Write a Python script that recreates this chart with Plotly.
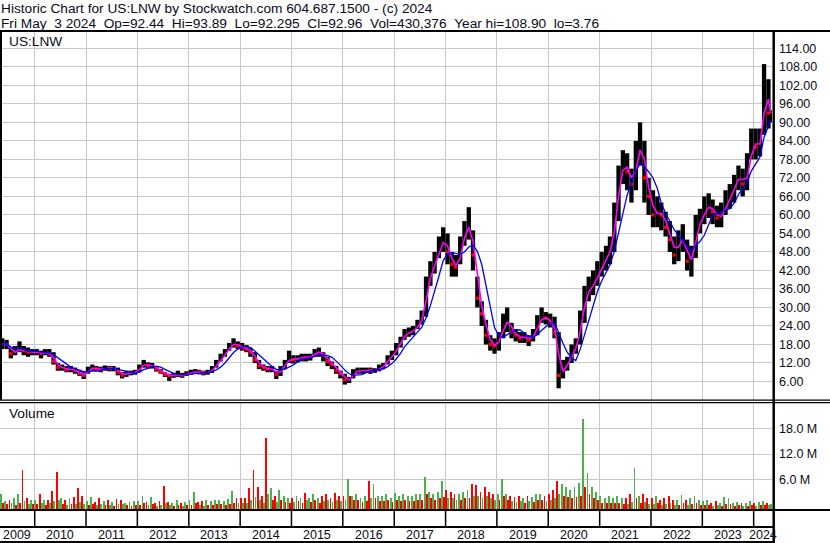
import pandas as pd
import plotly.graph_objects as go

# ---------------- data (monthly, May 2009 .. May 2024) ----------------
close = [
    18.0, 18.5, 15.0, 16.0, 16.5, 16.0, 15.5, 15.5,                          # 2009 May-Dec
    15.5, 15.0, 15.5, 15.0, 12.5, 10.5, 10.5, 9.8, 10.0, 9.5, 8.5, 8.0,      # 2010
    10.0, 10.5, 10.0, 9.8, 10.5, 10.2, 10.3, 9.0, 8.0, 8.8, 8.8, 9.0,        # 2011
    10.5, 12.0, 11.0, 11.3, 10.0, 9.0, 8.3, 7.8, 8.0, 8.3, 8.0, 8.5,         # 2012
    9.0, 9.2, 9.0, 8.8, 9.0, 10.0, 12.0, 13.5, 15.5, 17.5, 18.5, 17.5,       # 2013
    17.0, 16.5, 15.5, 13.0, 11.0, 10.5, 10.0, 10.0, 8.2, 10.0, 12.0, 13.5,   # 2014
    13.0, 13.5, 14.0, 13.8, 14.0, 15.5, 15.5, 14.5, 12.5, 11.5, 9.5, 8.5,    # 2015
    6.5, 6.5, 9.0, 9.5, 9.5, 9.8, 9.5, 9.5, 10.5, 11.0, 13.5, 14.5,          # 2016
    17.0, 19.5, 21.5, 22.0, 22.5, 24.5, 27.0, 37.0, 42.0, 45.0, 50.0, 52.0,  # 2017
    48.0, 44.0, 43.0, 49.0, 56.0, 56.0, 47.0, 33.0, 28.0, 21.0, 18.0, 17.5,  # 2018
    20.0, 25.0, 25.5, 22.0, 21.0, 20.0, 20.5, 19.5, 21.0, 25.0, 27.0, 26.5,  # 2019
    25.0, 22.0, 8.0, 10.5, 12.0, 15.5, 18.0, 26.0, 34.0, 36.0, 38.0, 41.0,   # 2020
    44.0, 47.0, 49.0, 60.0, 72.0, 77.0, 74.0, 70.0, 78.0, 84.0, 72.0, 66.0,  # 2021
    60.0, 61.0, 60.0, 56.0, 52.0, 47.0, 52.0, 52.0, 45.0, 46.0, 56.0, 58.0,  # 2022
    62.0, 63.0, 61.0, 59.0, 60.0, 64.0, 66.0, 70.0, 73.0, 70.0, 74.0, 84.0,  # 2023
    82.0, 84.0, 102.0, 93.0, 93.0,                                           # 2024 Jan-May
]
high = [
    20.0, 19.5, 17.0, 17.5, 19.0, 17.5, 17.0, 16.5,
    16.5, 16.0, 16.5, 16.5, 15.5, 12.0, 11.5, 11.0, 11.0, 10.5, 9.8, 9.0,
    10.8, 11.5, 11.0, 10.8, 11.2, 11.0, 11.0, 10.5, 9.0, 9.5, 9.5, 9.8,
    11.5, 13.0, 12.2, 12.0, 11.0, 10.0, 9.0, 8.5, 8.8, 9.5, 8.8, 9.3,
    9.8, 10.0, 9.8, 9.5, 9.8, 11.0, 13.0, 15.0, 16.5, 18.5, 20.0, 19.0,
    18.5, 17.8, 17.0, 15.5, 13.0, 11.5, 11.0, 11.0, 9.5, 11.0, 13.0, 16.0,
    14.5, 14.5, 15.0, 15.0, 15.0, 16.5, 17.0, 15.5, 14.0, 12.5, 11.0, 9.5,
    8.5, 7.5, 10.0, 10.5, 10.5, 10.5, 10.5, 10.3, 11.5, 12.0, 14.5, 16.0,
    18.5, 20.5, 23.0, 23.5, 24.0, 26.0, 29.0, 40.0, 45.0, 48.0, 53.0, 56.0,
    54.0, 48.0, 47.0, 53.0, 58.0, 62.5, 55.0, 40.0, 32.0, 26.0, 21.0, 20.0,
    22.0, 28.0, 30.0, 25.0, 23.0, 22.0, 22.0, 21.0, 23.0, 27.5, 30.0, 28.5,
    28.0, 27.0, 22.0, 13.0, 14.0, 18.0, 20.0, 29.0, 37.0, 40.0, 42.0, 45.0,
    48.0, 50.0, 53.0, 64.0, 76.0, 81.0, 80.0, 75.0, 84.0, 90.0, 84.0, 72.0,
    68.0, 66.0, 64.0, 61.0, 58.0, 53.0, 55.0, 57.0, 52.0, 50.0, 60.0, 62.0,
    66.0, 67.0, 65.0, 63.0, 64.0, 68.0, 70.0, 73.0, 76.0, 75.0, 80.0, 88.0,
    88.0, 88.0, 108.9, 104.0, 94.0,
]
low = [
    16.5, 16.5, 13.5, 14.5, 15.5, 14.5, 14.0, 14.5,
    14.5, 13.5, 14.5, 14.0, 11.5, 9.5, 9.5, 9.0, 9.0, 8.5, 7.8, 6.8,
    8.5, 9.5, 9.2, 9.0, 9.5, 9.3, 9.3, 8.0, 7.0, 7.5, 8.0, 8.2,
    9.0, 10.5, 10.2, 10.2, 9.2, 8.5, 7.5, 6.2, 7.2, 7.5, 7.2, 7.8,
    8.2, 8.5, 8.3, 8.0, 8.2, 8.8, 10.5, 12.5, 14.0, 16.0, 17.0, 16.5,
    16.0, 15.5, 14.0, 12.0, 10.0, 9.5, 9.0, 9.0, 6.8, 7.8, 10.0, 12.0,
    11.8, 12.2, 12.5, 12.5, 12.8, 14.0, 14.0, 12.5, 11.0, 10.0, 8.5, 7.0,
    5.0, 5.5, 7.0, 8.5, 8.5, 8.8, 8.5, 8.8, 9.3, 10.0, 11.5, 13.0,
    14.5, 17.0, 19.5, 20.5, 21.0, 23.0, 24.5, 27.0, 37.0, 41.0, 46.0, 48.0,
    44.0, 40.0, 40.0, 44.0, 50.0, 52.0, 42.0, 30.0, 24.0, 18.0, 16.0, 15.0,
    16.0, 20.0, 22.0, 20.0, 19.0, 18.5, 18.5, 17.5, 19.0, 21.0, 25.0, 24.5,
    23.5, 20.0, 3.8, 7.0, 9.5, 12.0, 15.0, 18.0, 25.0, 32.0, 34.0, 37.0,
    40.0, 42.0, 44.0, 48.0, 58.0, 70.0, 68.0, 64.0, 68.0, 76.0, 64.0, 60.0,
    56.0, 56.0, 55.0, 53.0, 48.0, 44.0, 45.0, 48.0, 42.0, 40.0, 46.0, 54.0,
    57.0, 59.0, 57.0, 56.0, 56.0, 60.0, 62.0, 64.0, 68.0, 66.0, 68.0, 78.0,
    78.0, 79.0, 86.0, 88.0, 90.0,
]
# volume in millions: largest day of the month, and a typical day
vol_peak = [
    3.5, 1.8, 2.2, 2.5, 3.5, 9.1, 2.5, 2.0,
    2.0, 3.6, 2.0, 2.2, 4.2, 8.6, 2.5, 2.0, 2.5, 2.8, 4.8, 3.0,
    1.8, 2.8, 1.6, 2.5, 1.8, 2.0, 1.6, 2.3, 2.0, 1.5, 1.6, 1.8,
    1.8, 3.1, 1.6, 2.7, 1.5, 1.8, 5.4, 1.6, 1.5, 2.0, 1.5, 1.6,
    2.0, 3.9, 1.6, 1.8, 2.0, 1.8, 2.2, 2.0, 1.8, 2.4, 4.1, 2.5,
    2.5, 2.5, 4.8, 9.1, 5.0, 3.0, 16.4, 4.9, 3.0, 4.5, 3.0, 2.5,
    2.5, 3.0, 2.5, 3.7, 2.5, 3.5, 2.5, 3.0, 3.5, 2.5, 3.7, 3.0,
    3.0, 7.0, 3.0, 3.5, 2.5, 3.0, 6.5, 5.8, 3.0, 3.0, 3.5, 2.5,
    3.8, 3.0, 3.5, 3.0, 3.0, 3.5, 3.5, 7.5, 4.0, 3.5, 4.0, 6.5,
    4.5, 4.0, 3.5, 3.5, 4.0, 4.5, 5.7, 5.5, 4.0, 5.0, 4.0, 3.5,
    3.5, 7.0, 3.5, 3.0, 2.8, 3.0, 2.5, 3.0, 2.8, 3.5, 3.5, 3.0,
    3.5, 4.5, 6.5, 5.7, 5.0, 4.5, 5.0, 6.0, 20.9, 8.4, 5.0, 4.0,
    3.0, 2.5, 3.0, 2.5, 3.0, 2.5, 2.5, 3.5, 9.5, 3.0, 3.5, 2.5,
    2.5, 3.0, 2.0, 2.5, 3.0, 2.0, 2.0, 3.2, 2.0, 2.5, 3.0, 2.0,
    1.8, 2.0, 1.5, 1.8, 1.5, 2.8, 2.5, 1.5, 1.6, 1.5, 1.5, 1.9,
    1.5, 1.6, 1.8, 1.5, 1.2,
]
vol_base = [
    1.5, 1.2, 1.3, 1.0, 1.4, 1.8, 1.1, 1.2,
    1.2, 1.4, 1.0, 1.3, 1.8, 2.0, 1.2, 1.0, 1.1, 1.2, 1.6, 1.2,
    1.0, 1.2, 0.9, 1.1, 1.0, 0.9, 0.8, 1.2, 1.1, 0.9, 0.8, 0.9,
    0.9, 1.3, 0.9, 1.1, 0.8, 0.9, 1.5, 1.0, 0.8, 1.0, 0.8, 0.9,
    1.0, 1.4, 0.9, 0.8, 1.0, 0.9, 1.2, 1.1, 1.0, 1.2, 1.5, 1.3,
    1.4, 1.3, 2.0, 2.8, 2.2, 1.5, 3.5, 2.0, 1.6, 2.2, 1.6, 1.5,
    1.6, 1.8, 1.5, 2.0, 1.6, 2.0, 1.5, 1.8, 2.0, 1.6, 2.2, 1.8,
    2.0, 3.0, 2.0, 2.0, 1.6, 1.8, 2.5, 2.5, 1.8, 1.8, 2.0, 1.6,
    2.0, 1.8, 2.0, 1.8, 1.8, 2.0, 2.0, 3.5, 2.5, 2.0, 2.5, 2.8,
    2.5, 2.5, 2.0, 2.0, 2.5, 2.5, 3.0, 3.0, 2.5, 3.0, 2.5, 2.0,
    2.0, 3.0, 2.0, 1.8, 1.6, 1.8, 1.5, 1.8, 1.6, 2.0, 2.0, 1.8,
    2.0, 2.5, 3.5, 3.0, 2.8, 2.5, 2.8, 3.0, 5.0, 3.5, 2.5, 2.0,
    1.5, 1.3, 1.5, 1.3, 1.5, 1.2, 1.2, 1.6, 2.5, 1.5, 1.6, 1.2,
    1.2, 1.4, 1.0, 1.2, 1.4, 1.0, 1.0, 1.5, 1.0, 1.2, 1.4, 1.0,
    0.9, 1.0, 0.8, 0.9, 0.8, 1.2, 1.1, 0.8, 0.9, 0.8, 0.8, 1.0,
    0.8, 0.9, 1.0, 0.9, 0.7,
]
price_ticks = [6, 12, 18, 24, 30, 36, 42, 48, 54, 60, 66, 72, 78, 84, 90, 96, 102, 108, 114]
vol_ticks = [6, 12, 18]
vol_tick_labels = ["6.0 M", "12.0 M", "18.0 M"]
year_labels = [2009, 2010, 2011, 2012, 2013, 2014, 2015, 2016, 2017, 2018,
               2019, 2020, 2021, 2022, 2023, 2024]
header1 = "Historic Chart for US:LNW by Stockwatch.com 604.687.1500 - (c) 2024"
header2 = ("Fri May\u00a0\u00a03 2024\u00a0\u00a0Op=92.44\u00a0\u00a0Hi=93.89\u00a0\u00a0"
           "Lo=92.295\u00a0\u00a0Cl=92.96\u00a0\u00a0Vol=430,376\u00a0\u00a0Year hi=108.90\u00a0\u00a0lo=3.76")

# ---------------- geometry helpers ----------------
W, H = 830, 543
def px(x):
    return x / W
def py(y):
    return 1 - y / H

FONT = "Liberation Sans, Arial, sans-serif"
TXT = "#0a0a20"
GRID = "#c8c8c8"
RED = "#ff0000"
GREEN = "#4cb04c"

n = len(close)
month_start = list(pd.date_range("2009-05-01", periods=n, freq="MS"))
bar_dates = [d + pd.Timedelta(days=14) for d in month_start]
bar_dates[-1] = pd.Timestamp("2024-05-02")

x_range = [pd.Timestamp("2009-04-29 05:00"), pd.Timestamp("2024-05-10 10:00")]

cs = pd.Series(close)
ma_short = cs.rolling(2, min_periods=1).mean()
ma_long = cs.rolling(5, min_periods=1).mean()

fig = go.Figure()

# high-low bars
bx, by = [], []
for d, h, l in zip(bar_dates, high, low):
    bx += [d, d, None]
    by += [l, h, None]
fig.add_trace(go.Scatter(x=bx, y=by, mode="lines", line=dict(color="black", width=4.3),
                         hoverinfo="skip", showlegend=False, xaxis="x", yaxis="y"))

# red close marks on down months
down_x = [bar_dates[i] for i in range(1, n) if close[i] < close[i - 1]]
down_y = [close[i] for i in range(1, n) if close[i] < close[i - 1]]
fig.add_trace(go.Scatter(x=down_x, y=down_y, mode="markers",
                         marker=dict(color=RED, size=3.2, symbol="square", line=dict(width=0)),
                         showlegend=False, xaxis="x", yaxis="y"))

fig.add_trace(go.Scatter(x=bar_dates, y=ma_short, mode="lines",
                         line=dict(color="#ff00ff", width=1.6), showlegend=False,
                         xaxis="x", yaxis="y"))
fig.add_trace(go.Scatter(x=bar_dates, y=ma_long, mode="lines",
                         line=dict(color="#0000ff", width=1.3), showlegend=False,
                         xaxis="x", yaxis="y"))

# volume bars: two per month
vx, vy, vc = [], [], []
for i in range(n):
    up = i == 0 or close[i] >= close[i - 1]
    if i == n - 1:
        vx.append(pd.Timestamp("2024-05-02"))
        vy.append(vol_peak[i])
        vc.append(GREEN if up else RED)
        continue
    vx.append(month_start[i] + pd.Timedelta(days=5))
    vy.append(vol_peak[i])
    vc.append(GREEN if up else RED)
    vx.append(month_start[i] + pd.Timedelta(days=19))
    vy.append(vol_base[i])
    vc.append(RED if up else GREEN)
fig.add_trace(go.Bar(x=vx, y=vy, base=-0.75, marker=dict(color=vc, line=dict(width=0)),
                     width=13 * 86400000, showlegend=False, xaxis="x2", yaxis="y2"))

axis_common = dict(type="date", range=x_range, domain=[0, px(772)], showgrid=True,
                   gridcolor=GRID, gridwidth=1, dtick="M12", tick0="2010-01-01",
                   showticklabels=False, ticks="", zeroline=False, showline=False,
                   fixedrange=True)

fig.update_layout(
    width=W, height=H, margin=dict(l=0, r=0, t=0, b=0),
    paper_bgcolor="white", plot_bgcolor="white", showlegend=False,
    bargap=0,
    font=dict(family=FONT, size=13, color=TXT),
    xaxis=dict(anchor="y", **axis_common),
    xaxis2=dict(anchor="y2", matches="x", **axis_common),
    yaxis=dict(domain=[py(400), py(32)], range=[0, 119.3], side="right", anchor="x",
               tickvals=price_ticks, ticktext=["%.2f" % v for v in price_ticks],
               showgrid=True, gridcolor=GRID, gridwidth=1, zeroline=False, ticks="",
               ticklabelstandoff=6, fixedrange=True,
               tickfont=dict(size=12.5, family=FONT, color=TXT)),
    yaxis2=dict(domain=[py(509), py(403)], range=[-0.75, 23.87], side="right", anchor="x2",
                tickvals=vol_ticks, ticktext=vol_tick_labels,
                showgrid=True, gridcolor=GRID, gridwidth=1, zeroline=False, ticks="",
                ticklabelstandoff=6, fixedrange=True,
                tickfont=dict(size=12.5, family=FONT, color=TXT)),
)

# frame lines
def hline(y, x0, x1, w):
    fig.add_shape(type="line", xref="paper", yref="paper", x0=px(x0), x1=px(x1),
                  y0=py(y), y1=py(y), line=dict(color="black", width=w))
def vline(x, y0, y1, w):
    fig.add_shape(type="line", xref="paper", yref="paper", x0=px(x), x1=px(x),
                  y0=py(y0), y1=py(y1), line=dict(color="black", width=w))

hline(31, 0, 830, 2)
hline(400.2, 0, 830, 1.2)
hline(402.6, 0, 830, 1.2)
hline(510, 0, 830, 2)
hline(527, 0, 774, 2)
hline(542, 0, 774, 2)
vline(1, 32, 400, 2)
vline(773.7, 31, 543, 2.5)

# year dividers in the row under the volume panel
for yv in year_labels[1:]:
    fig.add_shape(type="line", xref="x", yref="paper",
                  x0=pd.Timestamp(f"{yv}-01-01"), x1=pd.Timestamp(f"{yv}-01-01"),
                  y0=py(527), y1=py(510), line=dict(color="black", width=1.5))

# year labels centered in their (visible) cells
for yv in year_labels:
    a = max(pd.Timestamp(f"{yv}-01-01"), x_range[0])
    b = min(pd.Timestamp(f"{yv + 1}-01-01"), x_range[1])
    mid = a + (b - a) / 2
    fig.add_annotation(x=mid, xref="x", y=py(534.5), yref="paper", text=str(yv),
                       showarrow=False, xanchor="center", yanchor="middle",
                       font=dict(size=12.5, family=FONT, color=TXT))

def label(text, x, y, size=13.7):
    fig.add_annotation(x=px(x), y=py(y), xref="paper", yref="paper", text=text,
                       showarrow=False, xanchor="left", yanchor="middle",
                       font=dict(size=size, family=FONT, color=TXT), borderpad=0)

label(header1, 0, 9.0)
label(header2, 0, 23.5)
label("US:LNW", 8, 41.5)
label("Volume", 8, 413.5)

fig.write_html("out.html", config={"displayModeBar": False, "staticPlot": True},
               post_script="document.body.style.margin='0px';document.body.style.overflow='hidden';")
